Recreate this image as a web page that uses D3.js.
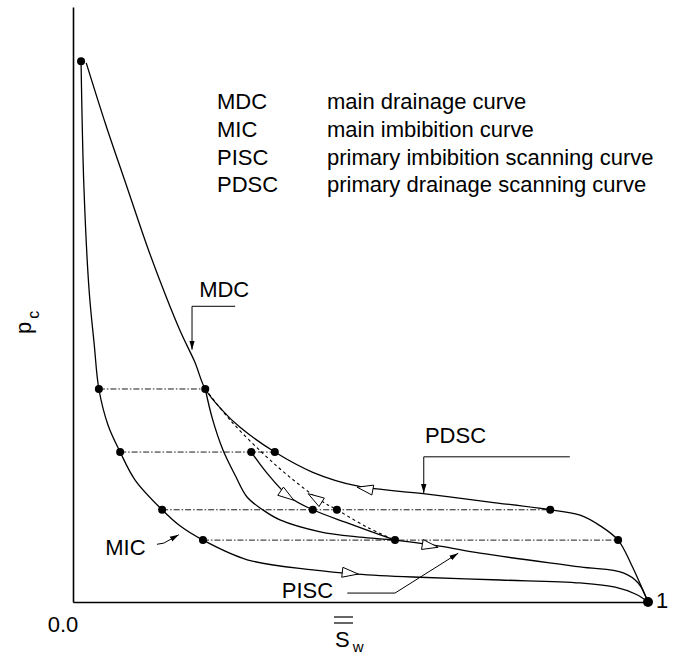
<!DOCTYPE html>
<html>
<head>
<meta charset="utf-8">
<script src="https://cdn.jsdelivr.net/npm/d3@7"></script>
<style>
  body { margin: 0; background: #fff; }
  text { font-family: "Liberation Sans", Arial, Helvetica, sans-serif; fill: #000; }
</style>
</head>
<body>
<svg id="chart" width="690" height="656"></svg>
<script>
// capillary pressure hysteresis sketch: Sw (0..1) vs pc (0..1)

const mdc = [[0.023,0.906],[0.057,0.802],[0.094,0.697],[0.130,0.595],[0.162,0.513],[0.188,0.452],[0.212,0.403],
  [0.230,0.358],[0.259,0.323],[0.290,0.294],[0.351,0.252],[0.417,0.218],[0.494,0.195],[0.609,0.182],
  [0.725,0.168],[0.830,0.155],[0.882,0.146],[0.917,0.128],[0.948,0.104],[0.972,0.061],[1,0]];
const mic = [[0.014,0.909],[0.019,0.697],[0.028,0.524],[0.037,0.432],[0.045,0.358],[0.061,0.297],[0.082,0.252],
  [0.108,0.205],[0.155,0.155],[0.186,0.128],[0.226,0.104],[0.303,0.071],[0.417,0.054],[0.494,0.047],
  [0.591,0.042],[0.743,0.037],[0.882,0.032],[0.943,0.025],[0.979,0.013],[1,0]];
const pisc = [[0.230,0.358],[0.243,0.306],[0.261,0.255],[0.282,0.213],[0.303,0.176],[0.330,0.155],[0.360,0.138],
  [0.430,0.118],[0.499,0.109],[0.560,0.104],[0.638,0.094],[0.708,0.082],[0.882,0.059],[0.957,0.049],
  [0.983,0.032],[1,0]];
const innerScan = [[0.310,0.252],[0.337,0.217],[0.377,0.176],[0.417,0.155],[0.477,0.133],[0.560,0.104]];
const dashedScan = [[0.230,0.358],[0.273,0.306],[0.330,0.250],[0.377,0.210],[0.430,0.171],[0.459,0.155],
  [0.511,0.126],[0.560,0.104]];

// [pc, Sw from, Sw to]
const levels = [[0.358,0.045,0.230],[0.252,0.082,0.351],[0.155,0.155,0.830],[0.104,0.226,0.948]];

const dots = [[0.014,0.909],[0.045,0.358],[0.230,0.358],[0.082,0.252],[0.310,0.252],[0.351,0.252],
  [0.155,0.155],[0.417,0.155],[0.459,0.155],[0.830,0.155],[0.226,0.104],[0.560,0.104],[0.948,0.104]];
const endPoint = [1, 0];

// open direction arrows: tip, tail
const arrows = [
  { tip: [0.494,0.193], tail: [0.522,0.188] },
  { tip: [0.384,0.171], tail: [0.360,0.187] },
  { tip: [0.409,0.182], tail: [0.435,0.166] },
  { tip: [0.635,0.092], tail: [0.605,0.097] },
  { tip: [0.496,0.047], tail: [0.468,0.050] }
];

const legendAbbr = ["MDC", "MIC", "PISC", "PDSC"];
const legendDesc = ["main drainage curve", "main imbibition curve",
  "primary imbibition scanning curve", "primary drainage scanning curve"];

// curve labels with leader lines
const labels = [
  { text: "MDC", at: [0.263,0.513], anchor: "middle", leader: [[0.282,0.497],[0.207,0.497],[0.207,0.424]] },
  { text: "PDSC", at: [0.612,0.267], anchor: "start", leader: [[0.864,0.244],[0.610,0.244],[0.610,0.183]] },
  { text: "MIC", at: [0.056,0.079], anchor: "start", leader: [[0.146,0.097],[0.158,0.099],[0.184,0.113]] },
  { text: "PISC", at: [0.363,0.007], anchor: "start", leader: [[0.477,0.015],[0.560,0.015],[0.670,0.082]] }
];

const svg = d3.select("#chart");
const x = d3.scaleLinear().domain([0, 1]).range([73, 648]);
const y = d3.scaleLinear().domain([0, 1]).range([602, 7]);

svg.append("defs").append("marker")
  .attr("id", "head")
  .attr("viewBox", "0 0 10 10")
  .attr("refX", 10).attr("refY", 5)
  .attr("markerWidth", 9).attr("markerHeight", 9)
  .attr("markerUnits", "userSpaceOnUse")
  .attr("orient", "auto")
  .append("path").attr("d", "M0,2L10,5L0,8Z").attr("fill", "#000");

// axes
svg.append("g")
  .attr("transform", `translate(0,${y(0)})`)
  .call(d3.axisBottom(x).ticks(0).tickSize(0).tickSizeOuter(0))
  .call(g => g.select(".domain").attr("stroke-width", 1.6));
svg.append("g")
  .attr("transform", `translate(${x(0)},0)`)
  .call(d3.axisLeft(y).ticks(0).tickSize(0).tickSizeOuter(0))
  .call(g => g.select(".domain").attr("stroke-width", 1.6));

// dash-dot level lines
svg.selectAll(".level")
  .data(levels)
  .enter().append("line")
  .attr("x1", d => x(d[1])).attr("x2", d => x(d[2]))
  .attr("y1", d => y(d[0])).attr("y2", d => y(d[0]))
  .attr("stroke", "#000").attr("stroke-width", 0.9)
  .attr("stroke-dasharray", "6,2,1.5,2");

const line = d3.line()
  .x(d => x(d[0])).y(d => y(d[1]))
  .curve(d3.curveCatmullRom.alpha(0.5));

[mdc, mic, pisc, innerScan].forEach(c => {
  svg.append("path").attr("d", line(c))
    .attr("fill", "none").attr("stroke", "#000").attr("stroke-width", 1.3);
});
svg.append("path").attr("d", line(dashedScan))
  .attr("fill", "none").attr("stroke", "#000").attr("stroke-width", 1.1)
  .attr("stroke-dasharray", "3,3");

// open arrowheads on the curves
svg.selectAll(".dir")
  .data(arrows)
  .enter().append("path")
  .attr("fill", "#fff").attr("stroke", "#000").attr("stroke-width", 1)
  .attr("d", d => {
    const tx = x(d.tip[0]), ty = y(d.tip[1]);
    const dx = tx - x(d.tail[0]), dy = ty - y(d.tail[1]);
    const len = Math.hypot(dx, dy), ux = dx / len, uy = dy / len;
    const L = 16, w = 5;
    return `M${tx},${ty}L${tx - L * ux - w * uy},${ty - L * uy + w * ux}L${tx - L * ux + w * uy},${ty - L * uy - w * ux}Z`;
  });

// points
svg.selectAll(".dot")
  .data(dots)
  .enter().append("circle")
  .attr("cx", d => x(d[0])).attr("cy", d => y(d[1]))
  .attr("r", 4).attr("fill", "#000");
svg.append("circle").attr("cx", x(endPoint[0])).attr("cy", y(endPoint[1])).attr("r", 5).attr("fill", "#000");

// legend
legendAbbr.forEach((t, i) => {
  svg.append("text").attr("x", 217).attr("y", 109 + i * 27.8).attr("font-size", 22).text(t);
  svg.append("text").attr("x", 327).attr("y", 109 + i * 27.8).attr("font-size", 22).text(legendDesc[i]);
});

// curve labels
labels.forEach(l => {
  svg.append("text")
    .attr("x", x(l.at[0])).attr("y", y(l.at[1]))
    .attr("text-anchor", l.anchor).attr("font-size", 22).text(l.text);
  svg.append("path")
    .attr("d", d3.line().x(d => x(d[0])).y(d => y(d[1]))(l.leader))
    .attr("fill", "none").attr("stroke", "#000").attr("stroke-width", 1)
    .attr("marker-end", "url(#head)");
});

// axis labels
svg.append("text").attr("x", x(0) - 10).attr("y", 632).attr("text-anchor", "middle")
  .attr("font-size", 22).text("0.0");
svg.append("text").attr("x", x(1) + 8).attr("y", 608).attr("font-size", 22).text("1");

const sw = svg.append("g").attr("transform", "translate(335,647)");
sw.append("text").attr("font-size", 22).text("S")
  .append("tspan").attr("font-size", 15).attr("dy", 5).attr("dx", 3).text("w");
[-30, -24].forEach(o => sw.append("line")
  .attr("x1", -1).attr("x2", 18).attr("y1", o).attr("y2", o)
  .attr("stroke", "#000").attr("stroke-width", 1.2));

svg.append("text").attr("transform", "translate(31,334) rotate(-90)")
  .attr("font-size", 22).text("p")
  .append("tspan").attr("font-size", 16).attr("dy", 8).attr("dx", 3).text("c");
</script>
</body>
</html>
